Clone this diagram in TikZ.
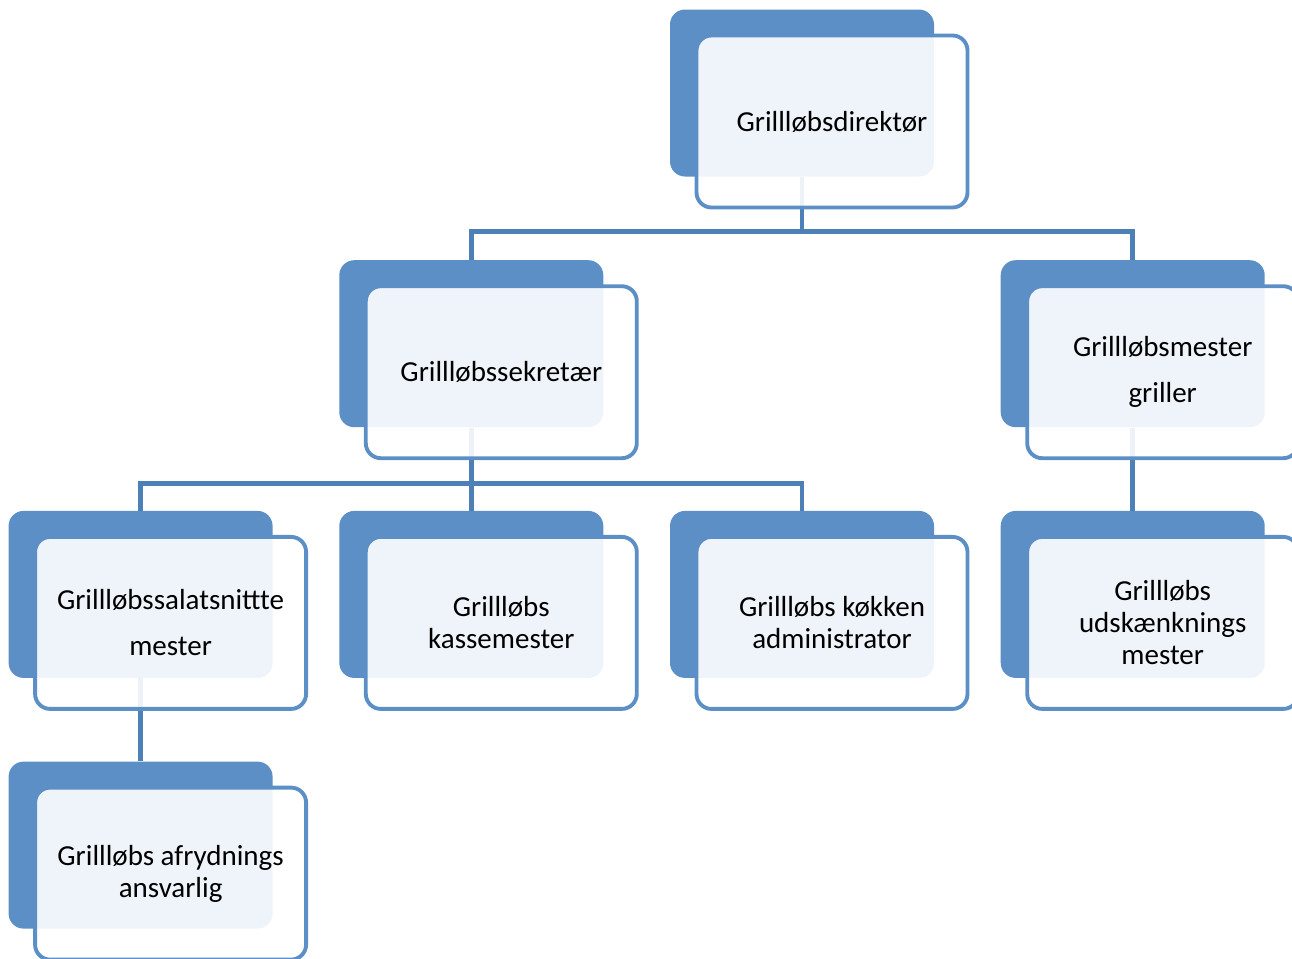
\documentclass[tikz,border=0pt]{standalone}
\usepackage{fontspec}
\setmainfont{Carlito}
\usepackage{tikz}
\usetikzlibrary{positioning}
\definecolor{boxblue}{HTML}{5B8FC6}
\definecolor{lineblue}{HTML}{4E80B8}

\begin{document}
\begin{tikzpicture}
			[node distance=1.66cm and 1.32cm,
			back/.style={rectangle,fill=boxblue,rounded corners=0.3cm,minimum width=5.28cm,minimum height=3.34cm,inner sep=0pt},
			front/.style={rectangle,draw=boxblue,line width=2.2pt,fill=white,fill opacity=0.9,text opacity=1,rounded corners=0.3cm,minimum width=5.42cm,minimum height=3.44cm,xshift=0.6cm,yshift=-0.57cm,align=center,font=\fontsize{16.5}{18.2}\selectfont},
			edge/.style={draw=lineblue,line width=2.8pt}]
			\useasboundingbox (0,0) rectangle (25.84,-19.16);
			% nodes %
			\node[back] (dir) at (16.04,-1.86) {};
			\node[back, below left = of dir] (sek) {};
			\node[back, below right = of dir] (gri) {};
			\node[back, below left = of sek] (sal) {};
			\node[back, below = of sek] (kas) {};
			\node[back, below right = of sek] (kok) {};
			\node[back, below = of gri] (uds) {};
			\node[back, below = of sal] (afr) {};

			% edges %
			\draw[edge] (dir.south) -- ++(0,-1.1) -| (sek.north);
			\draw[edge] (dir.south) -- ++(0,-1.1) -| (gri.north);
			\draw[edge] (sek.south) -- ++(0,-1.12) -| (sal.north);
			\draw[edge] (sek.south) -- (kas.north);
			\draw[edge] (sek.south) -- ++(0,-1.12) -| (kok.north);
			\draw[edge] (gri.south) -- (uds.north);
			\draw[edge] (sal.south) -- (afr.north);

			% labels %
			\node[front] (dirf) at (dir) {Grillløbsdirektør};
			\node[front] (sekf) at (sek) {Grillløbssekretær};
			\node[front] (grif) at (gri) {Grillløbsmester\\[8pt]griller};
			\node[front] (salf) at (sal) {Grillløbssalatsnittte\\[8pt]mester};
			\node[front] (kasf) at (kas) {Grillløbs\\kassemester};
			\node[front] (kokf) at (kok) {Grillløbs køkken\\administrator};
			\node[front] (udsf) at (uds) {Grillløbs\\udskænknings\\mester};
			\node[front] (afrf) at (afr) {Grillløbs afrydnings\\ansvarlig};
\end{tikzpicture}
\end{document}
